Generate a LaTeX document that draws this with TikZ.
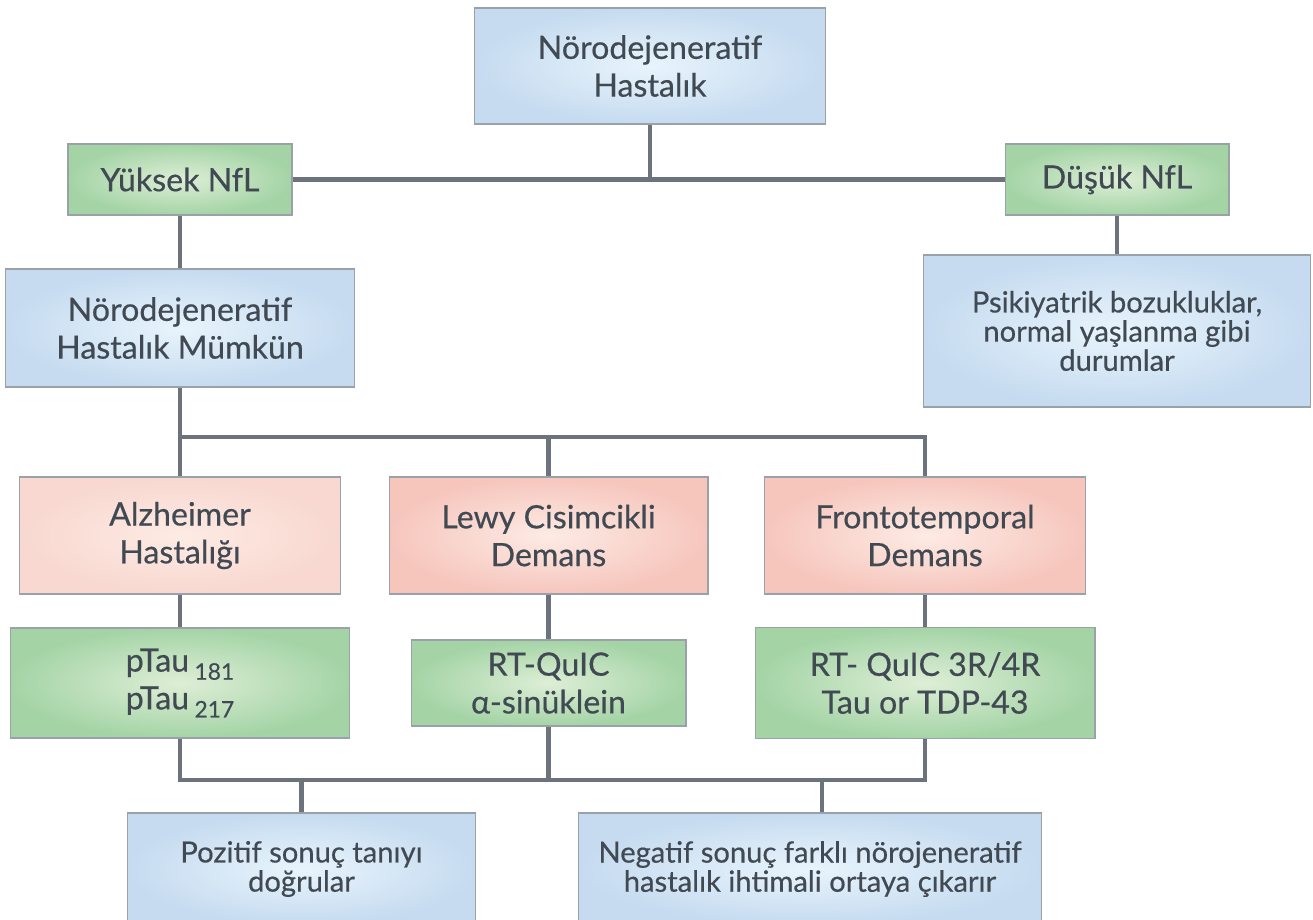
\documentclass[tikz,border=0pt]{standalone}
\usepackage{fontspec}
\setmainfont{Lato}[FakeBold=0.45]
\definecolor{txtgray}{HTML}{414A53}
\definecolor{linegray}{HTML}{6C737C}
\definecolor{edgegray}{HTML}{9AA1A8}
\definecolor{blueIn}{HTML}{E8F4FC}
\definecolor{blueOut}{HTML}{C6DBF0}
\definecolor{greenIn}{HTML}{DEEED6}
\definecolor{greenOut}{HTML}{A4D4A6}
\definecolor{pinkIn}{HTML}{FDEBE4}
\definecolor{pinkOut}{HTML}{F6C6BD}
\definecolor{paleOut}{HTML}{F8D8D0}
\newcommand{\sbt}[1]{\,\raisebox{-0.5ex}{\fontsize{13}{13}\selectfont #1}}

\begin{document}
\begin{tikzpicture}[
    x=0.02cm, y=-0.02cm,
    box/.style={%
      draw=edgegray,
      line width=0.6pt,
      rectangle,
      align=center,
      inner sep=0pt,
      text=txtgray,
      font=\fontsize{18.3}{21.5}\selectfont,
    },
    bluebox/.style={box, inner color=blueIn, outer color=blueOut},
    greenbox/.style={box, inner color=greenIn, outer color=greenOut},
    pinkbox/.style={box, inner color=pinkIn, outer color=pinkOut},
    small/.style={font=\fontsize{16.6}{16.6}\selectfont},
    conn/.style={draw=linegray, line width=2.3pt},
  ]
    \useasboundingbox (0,0) rectangle (1313,920);

    \node [bluebox, minimum width=7.02cm, minimum height=2.32cm] (top) at (650,66) {Nörodejeneratif\\Hastalık};
    \node [greenbox, minimum width=4.48cm, minimum height=1.42cm] (yuksek) at (180,179.5) {Yüksek NfL};
    \node [greenbox, minimum width=4.48cm, minimum height=1.42cm] (dusuk) at (1117,179.5) {Düşük NfL};
    \node [bluebox, minimum width=6.98cm, minimum height=2.36cm] (mumkun) at (180,328) {Nörodejeneratif\\Hastalık Mümkün};
    \node [bluebox, small, minimum width=7.76cm, minimum height=3.04cm] (psik) at (1117,331) {Psikiyatrik bozukluklar,\\normal yaşlanma gibi\\durumlar};

    \node [pinkbox, outer color=paleOut, minimum width=6.42cm, minimum height=2.34cm] (alz) at (180,535.5) {Alzheimer\\Hastalığı};
    \node [pinkbox, minimum width=6.38cm, minimum height=2.34cm] (lewy) at (548.5,535.5) {Lewy Cisimcikli\\Demans};
    \node [pinkbox, minimum width=6.42cm, minimum height=2.34cm] (fronto) at (925,535.5) {Frontotemporal\\Demans};

    \node [greenbox, minimum width=6.8cm, minimum height=2.2cm] (ptau) at (180,683) {pTau\sbt{181}\\pTau\sbt{217}};
    \node [greenbox, minimum width=5.5cm, minimum height=1.72cm] (rtas) at (548.5,683) {RT-QuIC\\α-sinüklein};
    \node [greenbox, minimum width=6.8cm, minimum height=2.22cm] (rtft) at (925,683) {RT- QuIC 3R/4R\\Tau or TDP-43};

    \node [bluebox, small, minimum width=6.98cm, minimum height=2.24cm] (pos) at (301.5,869) {Pozitif sonuç tanıyı\\doğrular};
    \node [bluebox, small, minimum width=9.28cm, minimum height=2.24cm] (neg) at (810,869) {Negatif sonuç farklı nörojeneratif\\hastalık ihtimali ortaya çıkarır};

    \coordinate (j1) at (650,179.5);
    \coordinate (j2) at (180,437);
    \coordinate (j3) at (180,780);
    \coordinate (j4) at (822,780);

    \draw [conn] (top) -- (j1);
    \draw [conn] (yuksek) -- (dusuk);
    \draw [conn] (yuksek) -- (mumkun);
    \draw [conn] (dusuk) -- (psik);
    \draw [conn] (mumkun) -- (j2) -| (fronto);
    \draw [conn] (j2) -- (alz);
    \draw [conn] (lewy |- j2) -- (lewy);
    \draw [conn] (alz) -- (ptau);
    \draw [conn] (lewy) -- (rtas);
    \draw [conn] (fronto) -- (rtft);
    \draw [conn] (ptau) -- (j3) -| (rtft);
    \draw [conn] (rtas) -- (rtas |- j3);
    \draw [conn] (pos |- j3) -- (pos);
    \draw [conn] (j4) -- (j4 |- neg.north);
\end{tikzpicture}
\end{document}
